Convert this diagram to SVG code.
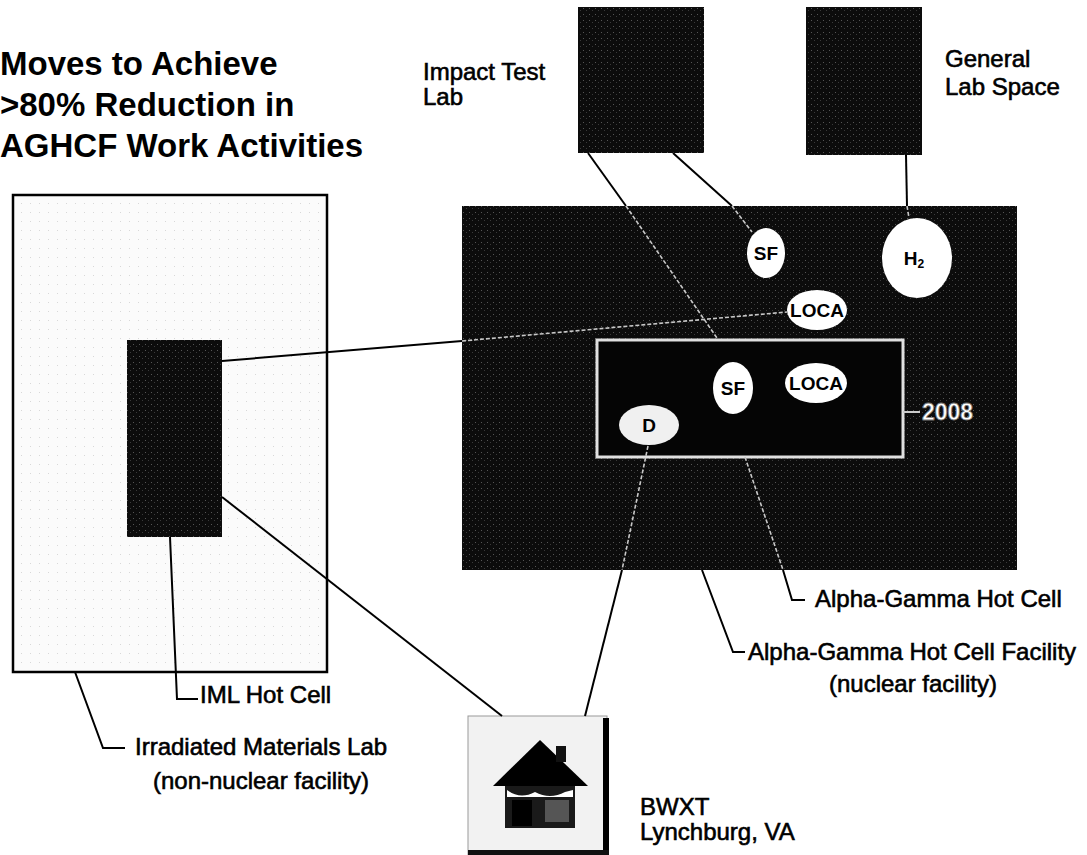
<svg xmlns="http://www.w3.org/2000/svg" width="1087" height="855" viewBox="0 0 1087 855">
<defs>
<pattern id="speckDark" width="6" height="6" patternUnits="userSpaceOnUse">
<rect width="6" height="6" fill="#0c0c0c"/>
<rect x="1" y="2" width="1" height="1" fill="#555"/>
<rect x="4" y="4" width="1" height="1" fill="#3a3a3a"/>
</pattern>
<pattern id="speckLight" width="9" height="9" patternUnits="userSpaceOnUse">
<rect width="9" height="9" fill="#fbfbfb"/>
<rect x="3" y="5" width="1" height="1" fill="#d8d8d8"/>
</pattern>
</defs>
<style>
.lbl{font-family:"Liberation Sans",Arial,sans-serif;font-size:24px;fill:#000;stroke:#000;stroke-width:0.6}
.title{font-family:"Liberation Sans",Arial,sans-serif;font-size:33px;font-weight:bold;fill:#000}
.ell{fill:#fff;stroke:none}
.etx{font-family:"Liberation Sans",Arial,sans-serif;font-size:19px;font-weight:bold;fill:#000;text-anchor:middle}
.blk{fill:none;stroke:#000;stroke-width:2}
.lite{fill:none;stroke:#c8c8c8;stroke-width:1.6;stroke-dasharray:4 2}
</style>
<rect width="1087" height="855" fill="#fff"/>

<g id="title">
<text class="title" x="0" y="75">Moves to Achieve</text>
<text class="title" x="0" y="116">&gt;80% Reduction in</text>
<text class="title" x="0" y="157">AGHCF Work Activities</text>
</g>

<g id="iml">
<rect x="13" y="195" width="314" height="477" fill="url(#speckLight)" stroke="#000" stroke-width="2.5"/>
</g>
<g id="iml-hot-cell">
<rect x="127" y="340" width="95" height="197" fill="url(#speckDark)"/>
</g>

<g id="aghcf">
<rect x="462" y="206" width="555" height="364" fill="url(#speckDark)"/>
</g>
<g id="ag-hot-cell">
<rect x="597" y="340" width="306" height="117" fill="#050505" stroke="#e0e0e0" stroke-width="3"/>
</g>

<g id="impact-lab">
<rect x="578" y="7" width="126" height="146" fill="url(#speckDark)"/>
<text class="lbl" x="423" y="80">Impact Test</text>
<text class="lbl" x="423" y="105">Lab</text>
</g>
<g id="general-lab">
<rect x="806" y="7" width="116" height="148" fill="url(#speckDark)"/>
<text class="lbl" x="945" y="67">General</text>
<text class="lbl" x="945" y="95">Lab Space</text>
</g>

<g id="bwxt">
<rect x="468" y="716" width="139" height="139" fill="#f2f2f2" stroke="#999" stroke-width="1"/>
<rect x="603" y="718" width="6" height="137" fill="#000"/>
<rect x="468" y="850" width="141" height="5" fill="#111"/>
<polygon points="540,740 493,786 588,786" fill="#000"/>
<rect x="556" y="746" width="10" height="16" fill="#111"/>
<rect x="505" y="786" width="70" height="42" fill="#1a1a1a"/>
<path d="M507,790 Q520,800 535,792 Q550,800 565,792 L573,790 L573,797 L507,797 Z" fill="#fff"/>
<rect x="512" y="800" width="20" height="26" fill="#000"/>
<rect x="545" y="800" width="24" height="22" fill="#555"/>
<text class="lbl" x="640" y="815">BWXT</text>
<text class="lbl" x="640" y="840">Lynchburg, VA</text>
</g>

<g id="ellipses">
<g id="sf-top"><ellipse class="ell" cx="766" cy="253" rx="19" ry="25"/><text class="etx" x="766" y="260">SF</text></g>
<g id="h2"><ellipse class="ell" cx="917" cy="258" rx="35" ry="40"/><text class="etx" x="914" y="265">H<tspan font-size="12" dy="3">2</tspan></text></g>
<g id="loca-top"><ellipse class="ell" cx="817" cy="310" rx="30" ry="20"/><text class="etx" x="817" y="317">LOCA</text></g>
<g id="loca-in"><ellipse class="ell" cx="816" cy="383" rx="31" ry="20"/><text class="etx" x="816" y="390">LOCA</text></g>
<g id="sf-in"><ellipse class="ell" cx="733" cy="388" rx="20" ry="26"/><text class="etx" x="733" y="395">SF</text></g>
<g id="d"><ellipse cx="649" cy="425" rx="30" ry="20" fill="#f0f0f0"/><text class="etx" x="649" y="432">D</text></g>
</g>

<g id="connectors">
<line class="blk" x1="222" y1="361" x2="462" y2="341"/>
<line class="lite" x1="462" y1="341" x2="787" y2="312"/>
<line class="blk" x1="222" y1="497" x2="502" y2="716"/>
<line class="blk" x1="588" y1="153" x2="626" y2="206"/>
<line class="lite" x1="626" y1="206" x2="717" y2="338"/>
<line class="blk" x1="673" y1="153" x2="732" y2="206"/>
<line class="lite" x1="732" y1="206" x2="752" y2="232"/>
<line class="blk" x1="906" y1="155" x2="907" y2="206"/>
<line class="lite" x1="907" y1="206" x2="909" y2="218"/>
<line class="lite" x1="648" y1="446" x2="622" y2="570"/>
<line class="blk" x1="622" y1="570" x2="585" y2="716" stroke-width="2.5"/>
<polyline class="blk" points="170,537 177,699 198,699"/>
<polyline class="blk" points="75,672 103,748 125,748" stroke-width="1.5"/>
<line class="lite" x1="745" y1="457" x2="783" y2="570"/>
<polyline class="blk" points="783,570 792,600 805,600" stroke-width="1.5"/>
<polyline class="blk" points="702,570 733,652 745,652" stroke-width="1.5"/>
<line x1="903" y1="412" x2="920" y2="412" stroke="#ccc" stroke-width="2"/>
</g>

<g id="labels">
<text class="lbl" x="200" y="703">IML Hot Cell</text>
<text class="lbl" x="135" y="755">Irradiated Materials Lab</text>
<text class="lbl" x="261" y="789" text-anchor="middle">(non-nuclear facility)</text>
<text class="lbl" x="815" y="607">Alpha-Gamma Hot Cell</text>
<text class="lbl" x="748" y="660">Alpha-Gamma Hot Cell Facility</text>
<text class="lbl" x="913" y="692" text-anchor="middle">(nuclear facility)</text>
<text x="922" y="420" font-family="Liberation Sans,Arial,sans-serif" font-size="23" font-weight="bold" fill="#fff" stroke="#777" stroke-width="0.8">2008</text>
</g>
</svg>
